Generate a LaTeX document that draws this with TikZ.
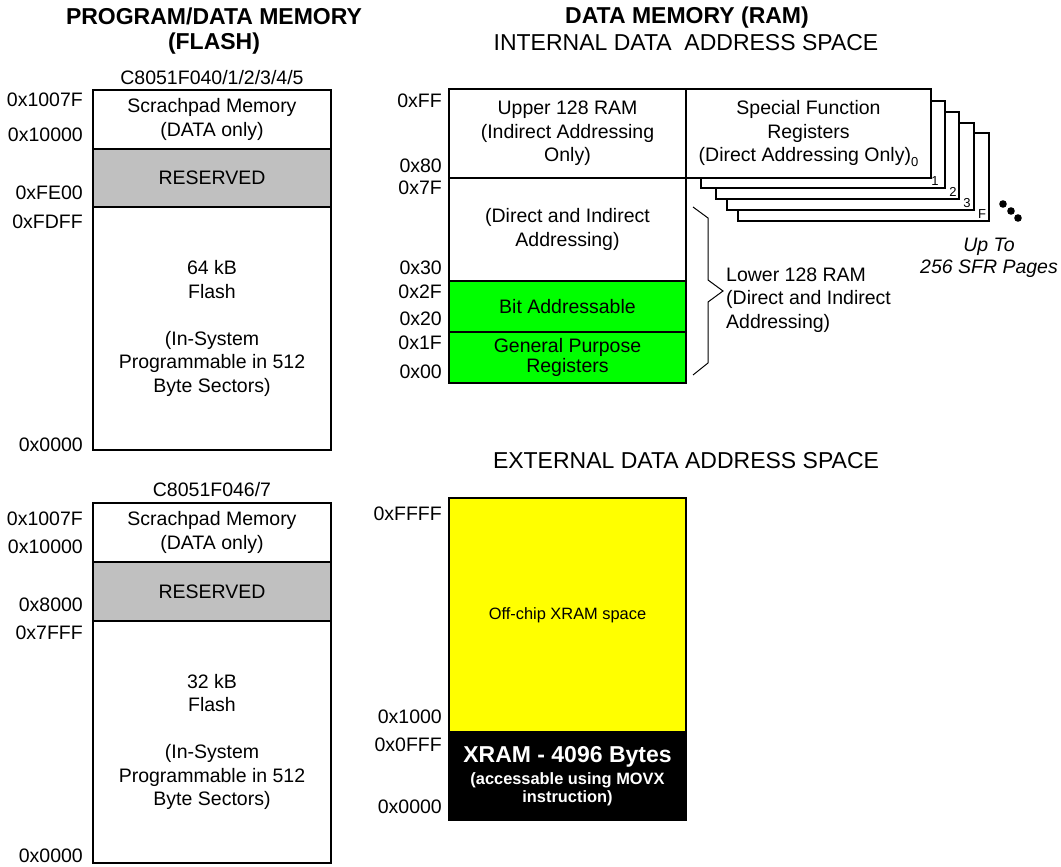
\documentclass[tikz,border=0pt]{standalone}
\usepackage{fontspec}
\setmainfont{Liberation Sans}
\newcommand{\bodyfont}{\fontsize{19.5}{23.5}\selectfont}
\newcommand{\headfont}{\fontsize{23}{25}\selectfont}
\newcommand{\tinyfont}{\fontsize{13}{13}\selectfont}
\definecolor{resgray}{RGB}{192,192,192}
\definecolor{bitgreen}{RGB}{0,255,0}
\definecolor{xyellow}{RGB}{255,255,0}
\begin{document}
\begin{tikzpicture}[x=1pt,y=-1pt,
  mem/.style={draw=black,line width=1.5pt,inner sep=0pt,outer sep=0pt,anchor=north west,align=center,font=\bodyfont},
  lbox/.style={mem,minimum width=238pt},
  rbox/.style={mem,minimum width=237pt},
  page/.style={draw=black,line width=1.5pt,fill=white,inner sep=0pt,outer sep=0pt,anchor=north west,align=center,font=\bodyfont},
  lab/.style={anchor=east,font=\bodyfont,inner sep=0pt},
  txt/.style={font=\bodyfont,inner sep=0pt,align=center},
  head/.style={font=\headfont,inner sep=0pt,align=center},
  pnum/.style={font=\tinyfont,inner sep=0pt}]
\useasboundingbox (0,0) rectangle (1061,867);

% ---------- headings ----------
\node[head,font=\headfont\bfseries] (hprog) at (214,31) {PROGRAM/DATA MEMORY\\(FLASH)};
\node[head,font=\headfont\bfseries] (hdata) at (687,18) {DATA MEMORY (RAM)};
\node[head] (hint) at (686,43) {INTERNAL DATA\ \ ADDRESS SPACE};
\node[head] (hext) at (686,461) {EXTERNAL DATA ADDRESS SPACE};

% ---------- left upper ----------
\node[txt] (dev1) at (212,78) {C8051F040/1/2/3/4/5};
\node[lbox,minimum height=59pt] (scr1) at (93,90) {Scrachpad Memory\\(DATA only)};
\node[lbox,minimum height=58pt,fill=resgray] (res1) at (93,149) {RESERVED};
\node[lbox,minimum height=243pt] (fl1) at (93,207) {64 kB\\Flash\\[23.5pt](In-System\\Programmable in 512\\Byte Sectors)};
\node[lab] (a1) at (83,100) {0x1007F};
\node[lab] (a2) at (83,135) {0x10000};
\node[lab] (a3) at (83,193) {0xFE00};
\node[lab] (a4) at (83,222) {0xFDFF};
\node[lab] (a5) at (83,445) {0x0000};

% ---------- left lower ----------
\node[txt] (dev2) at (212,490) {C8051F046/7};
\node[lbox,minimum height=59pt] (scr2) at (93,503) {Scrachpad Memory\\(DATA only)};
\node[lbox,minimum height=59pt,fill=resgray] (res2) at (93,562) {RESERVED};
\node[lbox,minimum height=242pt] (fl2) at (93,621) {32 kB\\Flash\\[23.5pt](In-System\\Programmable in 512\\Byte Sectors)};
\node[lab] (b1) at (83,519) {0x1007F};
\node[lab] (b2) at (83,547) {0x10000};
\node[lab] (b3) at (83,605) {0x8000};
\node[lab] (b4) at (83,633) {0x7FFF};
\node[lab] (b5) at (83,856) {0x0000};

% ---------- SFR pages (back to front) ----------
\node[page,minimum width=251pt,minimum height=88pt] (pgF) at (738,133) {};
\node[page,minimum width=247pt,minimum height=87pt] (pg3) at (727,123) {};
\node[page,minimum width=243pt,minimum height=87pt] (pg2) at (716,112) {};
\node[page,minimum width=244pt,minimum height=87pt] (pg1) at (701,101) {};
\node[page,minimum width=245pt,minimum height=89pt] (pg0) at (686,89) {Special Function\\Registers\\(Direct Addressing Only)\raisebox{-5pt}{\tinyfont 0}};
\node[pnum] (n1) at (935,181) {1};
\node[pnum] (n2) at (953,192) {2};
\node[pnum] (n3) at (967,203) {3};
\node[pnum] (nF) at (982,214) {F};
\fill (1003,204) circle (3.8pt) (1011,211) circle (3.8pt) (1018,218) circle (3.8pt);
\node[txt,font=\bodyfont\itshape,align=center] (upto) at (989,258) {Up To\\[-1.5pt]256 SFR Pages};

% ---------- internal RAM ----------
\node[rbox,minimum height=89pt] (up) at (449,89) {Upper 128 RAM\\(Indirect Addressing\\Only)};
\node[rbox,minimum height=103pt] (dir) at (449,178) {(Direct and Indirect\\Addressing)};
\node[rbox,minimum height=51pt,fill=bitgreen] (bit) at (449,281) {Bit Addressable};
\node[rbox,minimum height=51pt,fill=bitgreen] (gp) at (449,332) {General Purpose\\[-3pt]Registers};
\node[lab] (r1) at (442,101) {0xFF};
\node[lab] (r2) at (442,166) {0x80};
\node[lab] (r3) at (442,188) {0x7F};
\node[lab] (r4) at (442,268) {0x30};
\node[lab] (r5) at (442,292) {0x2F};
\node[lab] (r6) at (442,319) {0x20};
\node[lab] (r7) at (442,343) {0x1F};
\node[lab] (r8) at (442,372) {0x00};

% brace
\coordinate (brtop) at (693,207);
\coordinate (brbot) at (693,375);
\draw[line width=1pt] (brtop) -- (708,218) -- (708,280) -- (723,291) -- (708,302) -- (708,363) -- (brbot);
\node[txt,anchor=west,align=left] (low) at (726,300) {Lower 128 RAM\\(Direct and Indirect\\Addressing)};

% ---------- external RAM ----------
\node[rbox,minimum height=234pt,fill=xyellow,font=\fontsize{16.4}{20}\selectfont] (off) at (449,498) {Off-chip XRAM space};
\node[rbox,minimum height=88pt,fill=black,text=white,font=\bfseries\fontsize{16.4}{18}\selectfont] (xram) at (449,732) {{\fontsize{23}{24}\selectfont XRAM - 4096 Bytes}\\[4pt](accessable using MOVX\\instruction)};
\node[lab] (e1) at (442,514) {0xFFFF};
\node[lab] (e2) at (442,717) {0x1000};
\node[lab] (e3) at (442,745) {0x0FFF};
\node[lab] (e4) at (442,807) {0x0000};
\end{tikzpicture}
\end{document}
